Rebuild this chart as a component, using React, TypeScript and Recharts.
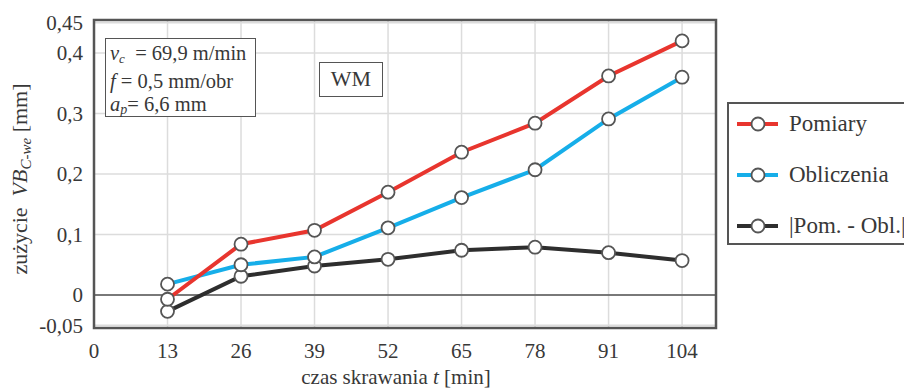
import React from 'react';
import {
  LineChart,
  Line,
  XAxis,
  YAxis,
  CartesianGrid,
  ReferenceLine,
  ReferenceArea,
  Legend,
} from 'recharts';

// ---- data ----
const czas = [13, 26, 39, 52, 65, 78, 91, 104];
const pomiary = [-0.007, 0.084, 0.107, 0.17, 0.236, 0.284, 0.362, 0.42];
const obliczenia = [0.018, 0.05, 0.063, 0.111, 0.161, 0.207, 0.291, 0.36];
const roznica = [-0.027, 0.031, 0.048, 0.059, 0.074, 0.079, 0.07, 0.057];

const xTicks = [0, 13, 26, 39, 52, 65, 78, 91, 104];
const yTicks = [-0.05, 0, 0.1, 0.2, 0.3, 0.4, 0.45];

const seriesNames = ['Pomiary', 'Obliczenia', '|Pom. - Obl.|'];

const data = czas.map((t, i) => ({
  t,
  pomiary: pomiary[i],
  obliczenia: obliczenia[i],
  roznica: roznica[i],
}));

const RED = '#e8352e';
const BLUE = '#16aee9';
const BLACK = '#2e2e2e';
const FRAME = '#555555';
const TEXT = '#383838';
const FONT = '"Liberation Serif", "DejaVu Serif", serif';

const dotStyle = { r: 6.5, fill: '#ffffff', stroke: '#555555', strokeWidth: 1.8 };

const fmt = (v: number) => String(v).replace('.', ',');

const legendItems = [
  { name: seriesNames[0], color: RED },
  { name: seriesNames[1], color: BLUE },
  { name: seriesNames[2], color: BLACK },
];

const LegendContent = () => (
  <div
    style={{
      width: 184,
      height: 143,
      boxSizing: 'border-box',
      border: `2px solid ${FRAME}`,
      background: '#fff',
      fontFamily: FONT,
      fontSize: 23,
      color: TEXT,
      position: 'relative',
    }}
  >
    {legendItems.map((it, i) => (
      <div
        key={it.name}
        style={{
          position: 'absolute',
          left: 0,
          top: 20 + i * 51 - 14,
          height: 28,
          display: 'flex',
          alignItems: 'center',
          whiteSpace: 'nowrap',
        }}
      >
        <svg width={60} height={28} style={{ display: 'block' }}>
          <line x1={8} x2={49} y1={14} y2={14} stroke={it.color} strokeWidth={4} />
          <circle cx={29} cy={14} r={6.5} fill="#fff" stroke="#555" strokeWidth={1.8} />
        </svg>
        <span style={{ lineHeight: '28px' }}>{it.name}</span>
      </div>
    ))}
  </div>
);

export default function App() {
  return (
    <div style={{ position: 'relative', width: 904, height: 382, overflow: 'hidden', fontFamily: FONT }}>
      <LineChart
        width={904}
        height={382}
        data={data}
        margin={{ top: 12, right: 196, bottom: 22, left: 26 }}
      >
        <CartesianGrid stroke="#dcdcdc" strokeWidth={1.5} />
        <XAxis
          dataKey="t"
          type="number"
          domain={[0, 110]}
          ticks={xTicks}
          allowDataOverflow
          height={40}
          tickLine={false}
          axisLine={false}
          tickSize={0}
          tickMargin={15}
          tick={{ fill: TEXT, fontSize: 21, fontFamily: FONT }}
        />
        <YAxis
          type="number"
          domain={[-0.0545, 0.4545]}
          ticks={yTicks}
          allowDataOverflow
          width={60}
          tickLine={false}
          axisLine={false}
          tickSize={0}
          tickMargin={11}
          tickFormatter={fmt}
          tick={{ fill: TEXT, fontSize: 21, fontFamily: FONT }}
        />
        <ReferenceLine y={0} stroke={FRAME} strokeWidth={1.6} />
        <ReferenceArea
          x1={0}
          x2={110}
          y1={-0.0545}
          y2={0.4545}
          fill="none"
          fillOpacity={0}
          stroke={FRAME}
          strokeWidth={2.5}
        />
        <Line
          type="linear"
          dataKey="roznica"
          name={seriesNames[2]}
          stroke={BLACK}
          strokeWidth={4}
          dot={dotStyle}
          activeDot={false}
          isAnimationActive={false}
        />
        <Line
          type="linear"
          dataKey="obliczenia"
          name={seriesNames[1]}
          stroke={BLUE}
          strokeWidth={4}
          dot={dotStyle}
          activeDot={false}
          isAnimationActive={false}
        />
        <Line
          type="linear"
          dataKey="pomiary"
          name={seriesNames[0]}
          stroke={RED}
          strokeWidth={4}
          dot={dotStyle}
          activeDot={false}
          isAnimationActive={false}
        />
        <Legend
          layout="horizontal"
          align="center"
          verticalAlign="middle"
          content={LegendContent}
          wrapperStyle={{ position: 'absolute', left: 719, top: 94, width: 184, height: 143 }}
        />
      </LineChart>

      {/* parameters box */}
      <div
        style={{
          position: 'absolute',
          left: 97,
          top: 30,
          width: 151,
          height: 79,
          boxSizing: 'border-box',
          border: `1.5px solid ${FRAME}`,
          background: '#fff',
          fontSize: 20.5,
          lineHeight: '23px',
          color: TEXT,
          paddingLeft: 4,
          paddingTop: 3,
          whiteSpace: 'nowrap',
        }}
      >
        <div>
          <i>v</i>
          <sub style={{ fontSize: 13, fontStyle: 'italic', verticalAlign: '-3px' }}>c</sub>
          {'\u00a0\u00a0= 69,9 m/min'}
        </div>
        <div>
          <i>f</i>
          {' = 0,5 mm/obr'}
        </div>
        <div>
          <i>a</i>
          <sub style={{ fontSize: 14, fontStyle: 'italic', verticalAlign: '-3px' }}>p</sub>
          {'= 6,6 mm'}
        </div>
      </div>

      {/* WM box */}
      <div
        style={{
          position: 'absolute',
          left: 311,
          top: 54,
          width: 64,
          height: 35,
          boxSizing: 'border-box',
          border: `1.5px solid ${FRAME}`,
          background: '#fff',
          fontSize: 22,
          lineHeight: '32px',
          textAlign: 'center',
          color: TEXT,
        }}
      >
        WM
      </div>

      {/* y axis label */}
      <div
        style={{
          position: 'absolute',
          left: -98,
          top: 157,
          width: 220,
          height: 28,
          lineHeight: '28px',
          textAlign: 'center',
          fontSize: 22,
          color: TEXT,
          transform: 'rotate(-90deg)',
          transformOrigin: '110px 14px',
          whiteSpace: 'nowrap',
        }}
      >
        {'zużycie\u00a0\u00a0'}
        <i>VB</i>
        <sub style={{ fontSize: 15, fontStyle: 'italic', verticalAlign: '-4px' }}>C-we</sub>
        {' [mm]'}
      </div>

      {/* x axis label */}
      <div
        style={{
          position: 'absolute',
          left: 238,
          top: 357,
          width: 300,
          height: 24,
          lineHeight: '24px',
          textAlign: 'center',
          fontSize: 21,
          color: TEXT,
          whiteSpace: 'nowrap',
        }}
      >
        czas skrawania <i>t</i> [min]
      </div>
    </div>
  );
}
